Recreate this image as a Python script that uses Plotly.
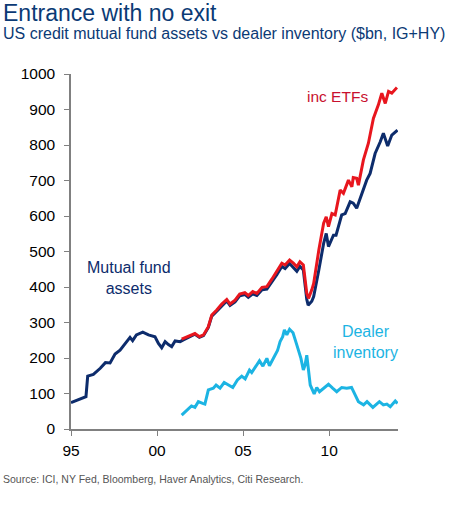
import plotly.graph_objects as go

# US credit mutual fund assets ($bn)
mf_years = [1995.0, 1995.87, 1995.97, 1996.3, 1996.7, 1997.0, 1997.27, 1997.56, 1997.85,
            1998.14, 1998.43, 1998.58, 1998.8, 1999.17, 1999.5, 1999.88, 2000.08, 2000.27,
            2000.47, 2000.66, 2000.85, 2001.05, 2001.34, 2001.53, 2001.9, 2002.2, 2002.46,
            2002.7, 2002.98, 2003.18, 2003.47, 2003.76, 2004.05, 2004.24, 2004.53, 2004.8,
            2005.1, 2005.3, 2005.56, 2005.8, 2006.1, 2006.38, 2006.67, 2006.96, 2007.25,
            2007.44, 2007.7, 2007.92, 2008.12, 2008.3, 2008.5, 2008.7, 2008.78, 2008.99,
            2009.1, 2009.4, 2009.68, 2009.83, 2009.96, 2010.25, 2010.4, 2010.73, 2010.93,
            2011.22, 2011.4, 2011.6, 2011.9, 2012.18, 2012.38, 2012.67, 2012.97, 2013.15,
            2013.4, 2013.64, 2013.97]
mf_values = [74, 91, 149, 154, 171, 187, 186, 211, 222,
             241, 258, 249, 265, 273, 265, 260, 241, 229,
             246, 238, 232, 248, 246, 251, 261, 267, 258,
             263, 286, 318, 332, 348, 361, 348, 358, 375,
             379, 371, 381, 376, 392, 394, 414, 435, 458,
             452, 466, 455, 444, 458, 448, 365, 349, 360,
             373, 448, 523, 551, 514, 546, 546, 603, 607,
             640, 636, 622, 664, 701, 720, 776, 809, 833,
             797, 828, 842]

# including ETFs
etf_years = [2001.43, 2001.9, 2002.2, 2002.46, 2002.7, 2002.98, 2003.18, 2003.47, 2003.76,
             2004.05, 2004.24, 2004.53, 2004.8, 2005.1, 2005.3, 2005.56, 2005.8, 2006.1,
             2006.38, 2006.67, 2006.96, 2007.25, 2007.44, 2007.7, 2007.92, 2008.12, 2008.3,
             2008.5, 2008.7, 2008.8, 2008.99, 2009.1, 2009.4, 2009.68, 2009.83, 2009.96,
             2010.16, 2010.35, 2010.64, 2010.83, 2011.12, 2011.32, 2011.4, 2011.6, 2011.7,
             2011.99, 2012.28, 2012.57, 2012.86, 2013.06, 2013.26, 2013.45, 2013.64, 2013.94]
etf_values = [253, 263, 269, 260, 265, 288, 321, 335, 352,
              365, 352, 363, 380, 384, 376, 387, 382, 399,
              401, 422, 443, 467, 462, 476, 467, 457, 471,
              462, 382, 368, 392, 410, 504, 580, 598, 570,
              607, 603, 673, 664, 701, 682, 708, 706, 687,
              758, 805, 875, 913, 946, 917, 951, 946, 962]

# dealer inventory
dealer_years = [2001.43, 2001.72, 2002.0, 2002.2, 2002.4, 2002.65, 2002.78, 2002.98, 2003.27,
                2003.43, 2003.66, 2003.9, 2004.14, 2004.4, 2004.67, 2004.92, 2005.12, 2005.37,
                2005.5, 2005.76, 2005.95, 2006.15, 2006.38, 2006.53, 2006.8, 2007.0, 2007.15,
                2007.3, 2007.4, 2007.54, 2007.7, 2007.9, 2008.12, 2008.36, 2008.5, 2008.6,
                2008.7, 2008.8, 2008.9, 2009.13, 2009.28, 2009.44, 2009.67, 2009.96, 2010.2,
                2010.44, 2010.73, 2011.02, 2011.3, 2011.5, 2011.7, 2012.0, 2012.2, 2012.54,
                2012.92, 2013.15, 2013.35, 2013.55, 2013.84, 2013.97]
dealer_values = [39, 52, 65, 61, 77, 72, 70, 110, 115,
                 124, 115, 131, 124, 117, 138, 149, 141, 166,
                 159, 180, 192, 177, 199, 178, 202, 221, 246,
                 260, 279, 265, 281, 271, 237, 199, 166, 180,
                 208, 157, 124, 99, 117, 105, 115, 126, 115,
                 105, 117, 115, 117, 96, 77, 68, 77, 61,
                 77, 68, 70, 63, 79, 72]

x_tick_vals = [1995, 2000, 2005, 2010]
x_tick_text = ["95", "00", "05", "10"]

navy = "#0d2c6c"
red = "#e8161e"
cyan = "#1cb4e3"
font = "Liberation Sans, Arial, sans-serif"

fig = go.Figure()
fig.add_trace(go.Scatter(x=mf_years, y=mf_values, mode="lines",
                         line=dict(color=navy, width=3)))
fig.add_trace(go.Scatter(x=etf_years, y=etf_values, mode="lines",
                         line=dict(color=red, width=3)))
fig.add_trace(go.Scatter(x=dealer_years, y=dealer_values, mode="lines",
                         line=dict(color=cyan, width=3)))

fig.update_layout(
    width=456, height=522,
    margin=dict(l=71, r=58, t=74, b=93),
    paper_bgcolor="white", plot_bgcolor="white",
    showlegend=False,
    font=dict(family=font, size=15, color="black"),
)
fig.update_xaxes(range=[1995, 2014], tickvals=x_tick_vals, ticktext=x_tick_text,
                 showgrid=False, zeroline=False, showline=True, linecolor="#808080",
                 linewidth=1.5, ticks="outside", ticklen=5, tickcolor="#808080",
                 tickfont=dict(size=15.5), ticklabelstandoff=2)
fig.update_yaxes(range=[0, 1000], dtick=100, showgrid=False, zeroline=False,
                 showline=True, linecolor="#808080", linewidth=1.5, ticks="outside",
                 ticklen=5, tickcolor="#808080", tickfont=dict(size=15.5),
                 ticklabelstandoff=6)

fig.add_annotation(x=0, y=1, xref="paper", yref="paper", xanchor="left", yanchor="middle",
                   xshift=-70, yshift=61, text="Entrance with no exit", showarrow=False,
                   font=dict(size=23, color="#0b3a75"))
fig.add_annotation(x=0, y=1, xref="paper", yref="paper", xanchor="left", yanchor="middle",
                   xshift=-70, yshift=41,
                   text="US credit mutual fund assets vs dealer inventory ($bn, IG+HY)",
                   showarrow=False, font=dict(size=16, color="#0b3a75"))
fig.add_annotation(x=0, y=0, xref="paper", yref="paper", xanchor="left", yanchor="middle",
                   xshift=-70, yshift=-50,
                   text="Source: ICI, NY Fed, Bloomberg, Haver Analytics, Citi Research.",
                   showarrow=False, font=dict(size=10.5, color="#555555"))

fig.add_annotation(x=1998.35, y=425, text="Mutual fund<br>assets", showarrow=False,
                   font=dict(size=16, color=navy))
fig.add_annotation(x=2010.5, y=938, text="inc ETFs", showarrow=False,
                   font=dict(size=15.5, color="#c8102e"))
fig.add_annotation(x=2012.1, y=245, text="Dealer<br>inventory", showarrow=False,
                   font=dict(size=16, color=cyan))

# drop the page's default body margin so the figure sits at the window's corner
fig.write_html("out.html", config={"displayModeBar": False},
               post_script="document.body.style.margin='0';")
